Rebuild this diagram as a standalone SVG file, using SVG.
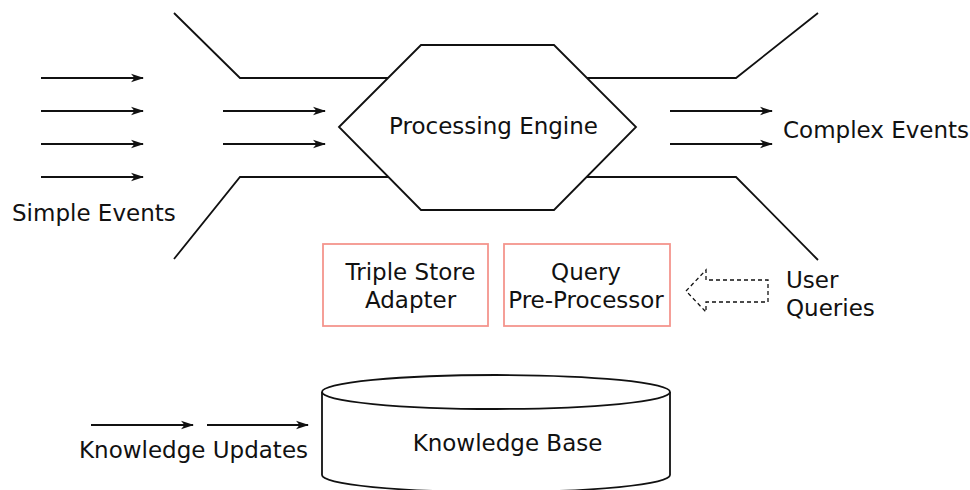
<svg xmlns="http://www.w3.org/2000/svg" width="970" height="490" viewBox="0 0 970 490">
<defs>
<marker id="ah" markerWidth="13" markerHeight="10" refX="12" refY="5" orient="auto" markerUnits="userSpaceOnUse">
<path d="M0,0.8 L13,5 L0,9.2 L3.5,5 z" fill="#111"/>
</marker>
</defs>
<style>
.ln{fill:none;stroke:#111;stroke-width:1.8}
.ar{fill:none;stroke:#111;stroke-width:1.8;marker-end:url(#ah)}
.t{font-family:"DejaVu Sans",sans-serif;font-size:23px;fill:#111}
.box{fill:#fff;stroke:#f4958d;stroke-width:1.8}
.shape{fill:#fff;stroke:#111;stroke-width:1.8}
</style>
<rect width="970" height="490" fill="#fff"/>
<g id="funnel">
<polyline class="ln" points="174,13 240,78 388,78"/>
<polyline class="ln" points="174,259 240,177 388,177"/>
<polyline class="ln" points="587,78 736,78 818,13"/>
<polyline class="ln" points="587,177 736,177 818,260"/>
</g>
<g id="connectors">
<line class="ar" x1="41" y1="78" x2="143" y2="78"/>
<line class="ar" x1="41" y1="111" x2="143" y2="111"/>
<line class="ar" x1="41" y1="144" x2="143" y2="144"/>
<line class="ar" x1="41" y1="177" x2="143" y2="177"/>
<line class="ar" x1="223" y1="111" x2="325" y2="111"/>
<line class="ar" x1="223" y1="144" x2="325" y2="144"/>
<line class="ar" x1="670" y1="111" x2="772" y2="111"/>
<line class="ar" x1="670" y1="144" x2="772" y2="144"/>
<line class="ar" x1="91" y1="425" x2="193" y2="425"/>
<line class="ar" x1="207" y1="425" x2="308" y2="425"/>
<polygon points="686,291 706,270 706,280 768,280 768,302 706,302 706,312" fill="none" stroke="#111" stroke-width="1.3" stroke-dasharray="4,3"/>
</g>
<g id="processing-engine">
<polygon class="shape" points="339,127 421,45 554,45 636,127 554,210 421,210"/>
<text class="t" x="493.5" y="134" text-anchor="middle">Processing Engine</text>
</g>
<g id="simple-events">
<text class="t" x="12" y="221">Simple Events</text>
</g>
<g id="complex-events">
<text class="t" x="783" y="138">Complex Events</text>
</g>
<g id="triple-store-adapter">
<rect class="box" x="323" y="244" width="165" height="82"/>
<text class="t" x="410.5" y="280" text-anchor="middle">Triple Store</text>
<text class="t" x="410.5" y="308" text-anchor="middle">Adapter</text>
</g>
<g id="query-pre-processor">
<rect class="box" x="504" y="244" width="166" height="82"/>
<text class="t" x="586" y="280" text-anchor="middle">Query</text>
<text class="t" x="586" y="308" text-anchor="middle">Pre-Processor</text>
</g>
<g id="user-queries">
<text class="t" x="786" y="288">User</text>
<text class="t" x="786" y="316">Queries</text>
</g>
<g id="knowledge-base">
<path class="shape" d="M322,392 L322,475 A174,17 0 0 0 670,475 L670,392"/>
<ellipse class="shape" cx="496" cy="392" rx="174" ry="17"/>
<text class="t" x="507.5" y="451" text-anchor="middle">Knowledge Base</text>
</g>
<g id="knowledge-updates">
<text class="t" x="79" y="458">Knowledge Updates</text>
</g>
</svg>
